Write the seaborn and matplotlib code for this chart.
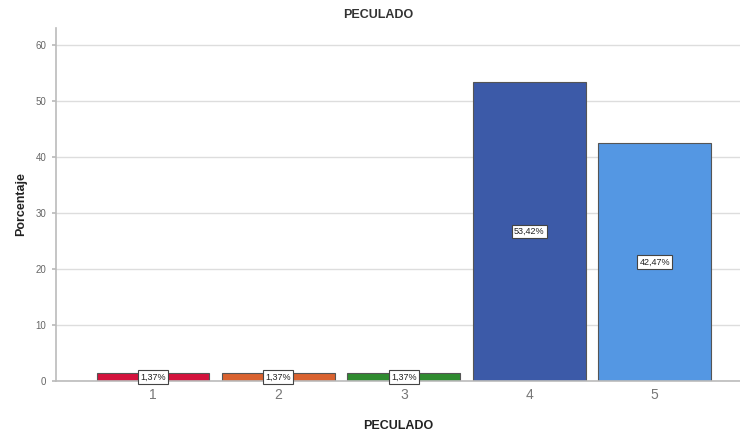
import matplotlib
matplotlib.use("Agg")
import matplotlib.pyplot as plt
import seaborn as sns
import pandas as pd

categories = ["1", "2", "3", "4", "5"]
values = [1.37, 1.37, 1.37, 53.42, 42.47]
labels = ["1,37%", "1,37%", "1,37%", "53,42%", "42,47%"]
colors = ["#d3123c", "#d9622f", "#2f8b30", "#3c5aa8", "#5497e3"]
yticks = [0, 10, 20, 30, 40, 50, 60]

sns.set_theme(style="white")
plt.rcParams['font.family'] = ['Liberation Sans', 'DejaVu Sans']

df = pd.DataFrame({"cat": categories, "val": values})

fig = plt.figure(figsize=(7.4, 4.34), dpi=100)
ax = fig.add_axes([56/740, 1-381/434, 1-56/740, (381-28)/434])

sns.barplot(data=df, x="cat", y="val", hue="cat", palette=colors, legend=False,
            width=0.9, edgecolor="#555555", linewidth=0.8, ax=ax, saturation=1)

ax.set_ylim(0, 63)
ax.set_xlim(-0.773, 4.68)
ax.set_yticks(yticks)
ax.set_yticklabels([str(t) for t in yticks], fontsize=7, color="#666666")
ax.tick_params(axis="x", labelsize=10, labelcolor="#777777", length=0, pad=5)
ax.tick_params(axis="y", length=3, color="#bbbbbb", left=True, pad=4)
ax.yaxis.grid(True, color="#dddddd", linewidth=1.0)
ax.set_axisbelow(True)
for s in ["top", "right"]:
    ax.spines[s].set_visible(False)
for s in ["left", "bottom"]:
    ax.spines[s].set_color("#bbbbbb")
    ax.spines[s].set_linewidth(1.2)

ax.set_xlabel("PECULADO", fontsize=9, fontweight="bold", color="#222222", labelpad=13)
ax.set_ylabel("Porcentaje", fontsize=9, fontweight="bold", color="#222222", labelpad=6)

for i, (v, lab) in enumerate(zip(values, labels)):
    ax.text(i, v / 2, lab, ha="center", va="center", fontsize=6.5, color="#222222",
            bbox=dict(boxstyle="square,pad=0.25", facecolor="white", edgecolor="#444444", linewidth=0.8))

fig.text(378/740, 1-15/434, "PECULADO", ha="center", va="center", fontsize=9,
         fontweight="bold", color="#333333")

fig.savefig("out.png", dpi=100)
